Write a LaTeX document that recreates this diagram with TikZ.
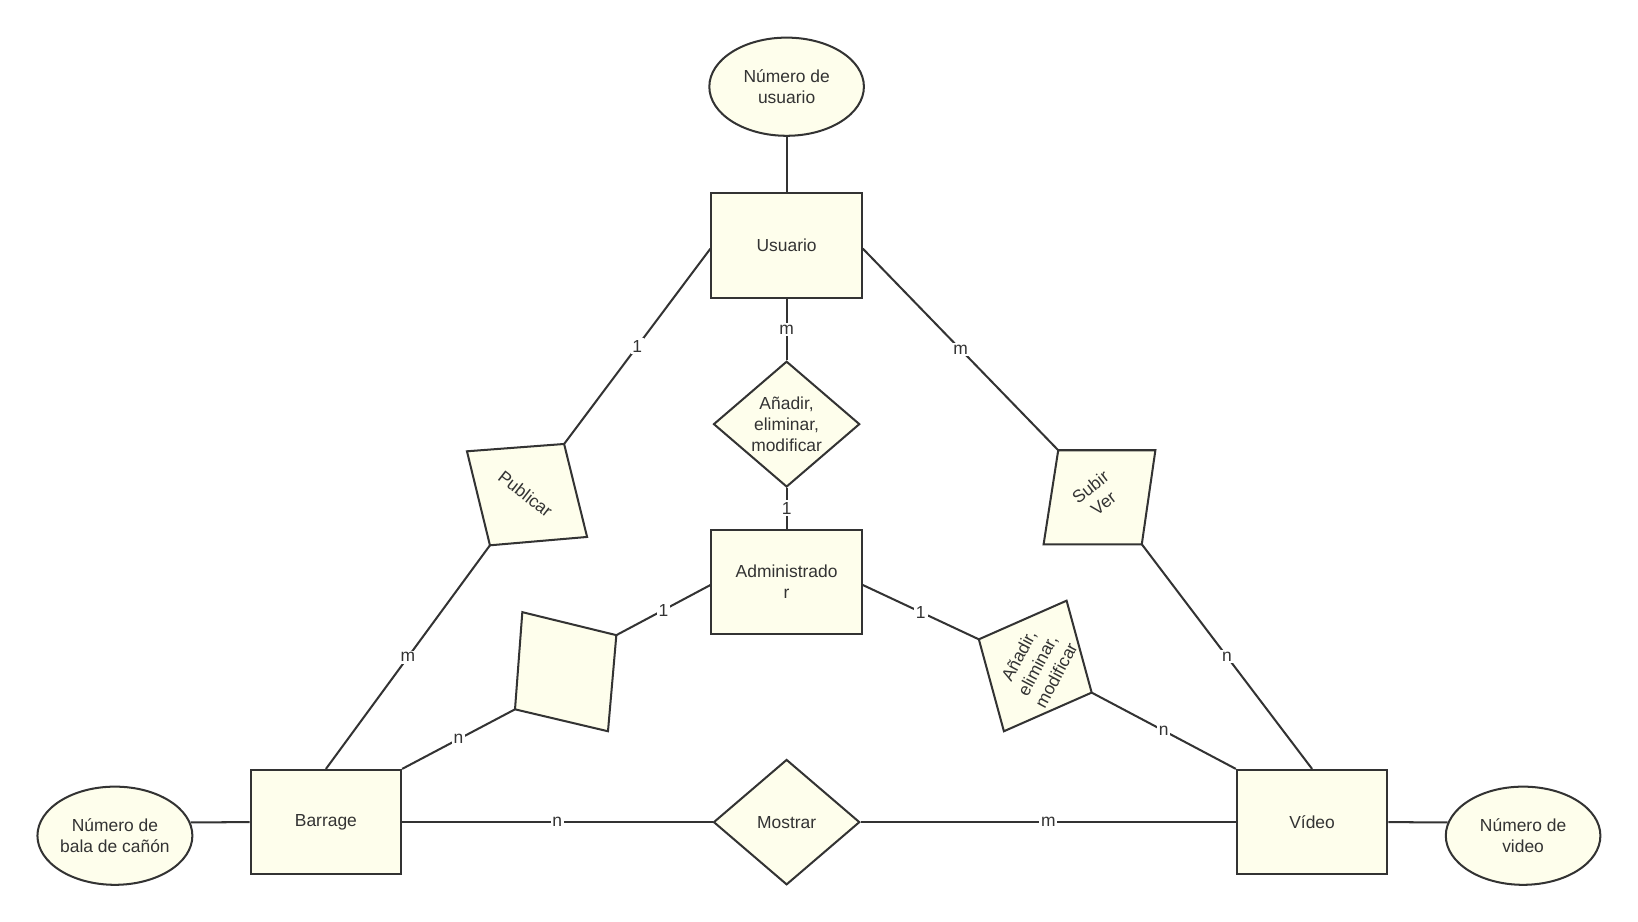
\documentclass[tikz,border=0pt]{standalone}
\usepackage{fontspec}
\setmainfont{Liberation Sans}
\usetikzlibrary{shapes.geometric}
\definecolor{boxfill}{RGB}{254,254,236}
\definecolor{edge}{RGB}{51,51,51}
\begin{document}
\begin{tikzpicture}[x=0.02cm,y=-0.02cm,line width=1.1pt,
  every node/.style={font=\fontsize{9.5}{11.5}\selectfont,text=edge},
  entity/.style={draw=edge,fill=boxfill,minimum width=2.88cm,minimum height=2cm,align=center},
  attrib/.style={draw=edge,fill=boxfill,ellipse,inner sep=0pt,minimum width=2.96cm,minimum height=1.88cm,align=center},
  rel/.style={draw=edge,fill=boxfill,diamond,minimum width=2.8cm,minimum height=2.4cm,inner sep=0pt,align=center},
  card/.style={fill=white,inner sep=1pt}]
\useasboundingbox (0,0) rectangle (1568,882);
% attributes
\node[attrib] (nu) at (753,83) {Número de\\usuario};
\node[attrib] (nb) at (110,800) {Número de\\bala de cañón};
\node[attrib] (nv) at (1458,800) {Número de\\video};
% entities
\node[entity] (usuario) at (753,235) {Usuario};
\node[entity] (admin) at (753,557) {Administrado\\r};
\node[entity] (barrage) at (312,787) {Barrage};
\node[entity] (video) at (1256,787) {Vídeo};
% relations
\node[rel] (amod) at (753,406) {Añadir,\\eliminar,\\modificar};
\node[rel] (mostrar) at (753,787) {Mostrar};
\coordinate (pa) at (447,432); \coordinate (pb) at (540,425);
\coordinate (pc) at (562,514); \coordinate (pd) at (469,522);
\coordinate (sa) at (1013,431); \coordinate (sb) at (1106,431);
\coordinate (sc) at (1093,521); \coordinate (sd) at (999,521);
\coordinate (ea) at (500,586); \coordinate (eb) at (590,608);
\coordinate (ec) at (582,700); \coordinate (ed) at (493,679);
\coordinate (ra) at (937,612); \coordinate (rb) at (1021,575);
\coordinate (rc) at (1045,663); \coordinate (rd) at (961,700);
\filldraw[draw=edge,fill=boxfill] (pa) -- (pb) -- (pc) -- (pd) -- cycle;
\filldraw[draw=edge,fill=boxfill] (sa) -- (sb) -- (sc) -- (sd) -- cycle;
\filldraw[draw=edge,fill=boxfill] (ea) -- (eb) -- (ec) -- (ed) -- cycle;
\filldraw[draw=edge,fill=boxfill] (ra) -- (rb) -- (rc) -- (rd) -- cycle;
\node[rotate=-38,inner sep=0pt] (publicar) at (503,473) {Publicar};
\node[rotate=38,align=center,inner sep=0pt] (subir) at (1050,474) {Subir\\Ver};
\node[rotate=62,align=center,inner sep=0pt] (amod2) at (993,637) {Añadir,\\eliminar,\\modificar};
% connectors
\draw[edge] (nu) -- (usuario);
\draw[edge] (usuario) -- node[card]{m} (amod);
\draw[edge] (amod) -- node[card]{1} (admin);
\draw[edge] (usuario.west) ++(0,3) -- node[card]{1} (pb);
\draw[edge] (pd) -- node[card]{m} (barrage.north);
\draw[edge] (usuario.east) ++(0,3) -- node[card]{m} (sa);
\draw[edge] (sc) -- node[card]{n} (video.north);
\draw[edge] (admin.west) ++(0,3) -- node[card]{1} (eb);
\draw[edge] (ed) -- node[card]{n} (barrage.north east);
\draw[edge] (admin.east) ++(0,3) -- node[card]{1} (ra);
\draw[edge] (rc) -- node[card]{n} (video.north west);
\draw[edge] (barrage) -- node[card]{n} (mostrar);
\draw[edge] (mostrar) -- node[card]{m} (video);
\draw[edge] (nb.10) -- (barrage.west);
\draw[edge] (video.east) -- (nv.170);
\end{tikzpicture}
\end{document}
